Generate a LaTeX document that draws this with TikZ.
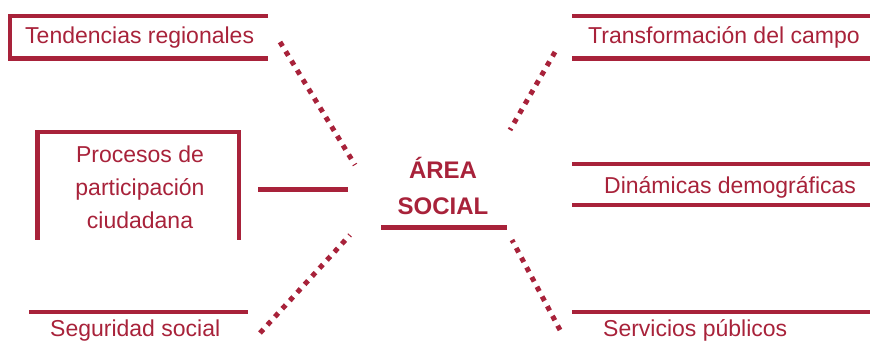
\documentclass[tikz,border=0pt]{standalone}
\usepackage{fontspec}
\setmainfont{Liberation Sans}
\definecolor{granate}{RGB}{168,34,58}
\tikzset{
  tema/.style={font=\fontsize{23}{33}\selectfont, text=granate, inner sep=0pt},
  raya/.style={draw=granate, line width=4.5pt},
  punteado/.style={draw=granate, line width=5pt, dash pattern=on 5pt off 6pt},
}
\begin{document}
\begin{tikzpicture}[x=1pt,y=-1pt]
                \useasboundingbox (0,0) rectangle (870,344);
                \path
                (280,42) coordinate (TL) (355,165) coordinate (TLc)
                (555,52) coordinate (TR) (510,130) coordinate (TRc)
                (260,333) coordinate (BL) (350,235) coordinate (BLc)
                (560,330) coordinate (BR) (512,240) coordinate (BRc)
                (258,189.5) coordinate (L) (348,189.5) coordinate (Lc)
                (381,227.5) coordinate (u1) (507,227.5) coordinate (u2)
                ;
                % centro
                \node[tema, font=\fontsize{24}{36}\selectfont\bfseries, align=center] (area) at (443,186) {ÁREA\\SOCIAL};
                \draw[raya] (u1) -- (u2);
                % temas
                \node[tema, anchor=base west] (tendencias) at (25,44) {Tendencias regionales};
                \node[tema, anchor=base west] (transformacion) at (588,44) {Transformación del campo};
                \node[tema, anchor=north, align=center] (procesos) at (140,146) {Procesos de\\participación\\ciudadana};
                \node[tema, anchor=base west] (dinamicas) at (604,194) {Dinámicas demográficas};
                \node[tema, anchor=base west] (seguridad) at (50,337) {Seguridad social};
                \node[tema, anchor=base west] (servicios) at (603,337) {Servicios públicos};
                % marcos
                \draw[raya] (268,16) -- (10,16) -- (10,58.5) -- (268,58.5);
                \draw[raya] (572,16) -- (875,16) (572,58.5) -- (875,58.5);
                \draw[raya] (37.5,240) -- (37.5,132) -- (239,132) -- (239,240);
                \draw[raya] (572,164) -- (875,164) (572,205) -- (875,205);
                \draw[raya] (29,312) -- (248,312) (572,312) -- (875,312);
                % conectores
                \draw[raya] (L) -- (Lc);
                \foreach \p in {TL,TR,BL,BR}
                  \draw[punteado] (\p) -- (\p c);
            \end{tikzpicture}
\end{document}
